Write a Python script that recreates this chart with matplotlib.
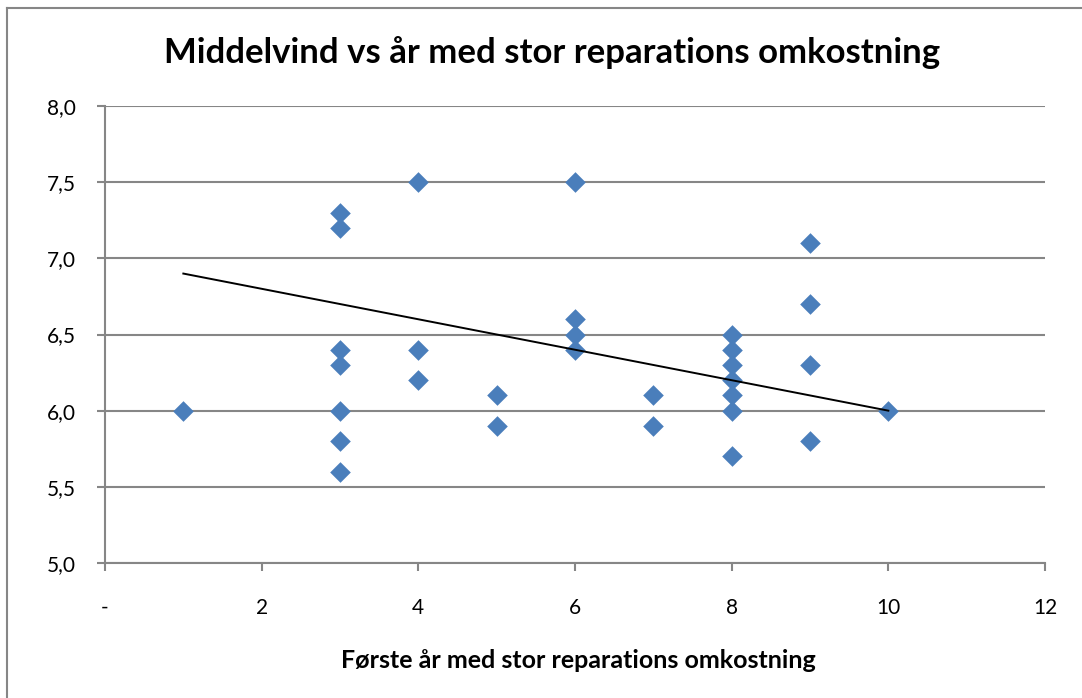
import matplotlib
matplotlib.use("Agg")
import matplotlib.pyplot as plt
from matplotlib.lines import Line2D
from matplotlib.ticker import FuncFormatter

# Data
first_year = [1, 3, 3, 3, 3, 3, 3, 3, 4, 4, 4, 5, 5, 6, 6, 6, 6, 7, 7,
              8, 8, 8, 8, 8, 8, 8, 9, 9, 9, 9, 10]
mean_wind = [6.0, 7.3, 7.2, 6.4, 6.3, 6.0, 5.8, 5.6, 7.5, 6.4, 6.2, 6.1, 5.9,
             7.5, 6.6, 6.5, 6.4, 6.1, 5.9,
             6.5, 6.4, 6.3, 6.2, 6.1, 6.0, 5.7, 7.1, 6.7, 6.3, 5.8, 6.0]
trend_x = [1, 10]
trend_y = [6.9, 6.0]

x_ticks = [0, 2, 4, 6, 8, 10, 12]
y_ticks = [5.0, 5.5, 6.0, 6.5, 7.0, 7.5, 8.0]

title = "Middelvind vs år med stor reparations omkostning"
xlabel = "Første år med stor reparations omkostning"

FONT = "Lato"
GRAY = "#868686"
BLUE = "#4A7EBB"

fig = plt.figure(figsize=(10.82, 6.98), dpi=100)
W, H = 1082, 698
ax = fig.add_axes([105 / W, (H - 563) / H, 940 / W, 457 / H])

ax.scatter(first_year, mean_wind, marker="D", s=10.5 ** 2, color=BLUE,
           linewidths=0, zorder=3, clip_on=False)
ax.plot(trend_x, trend_y, color="black", lw=1.4, zorder=4)

ax.set_xlim(0, 12)
ax.set_ylim(5.0, 8.0)
ax.set_xticks(x_ticks)
ax.set_yticks(y_ticks)
ax.xaxis.set_major_formatter(FuncFormatter(lambda v, p: "-" if v == 0 else f"{v:.0f}"))
ax.yaxis.set_major_formatter(FuncFormatter(lambda v, p: f"{v:.1f}".replace(".", ",")))

ax.grid(axis="y", color=GRAY, lw=1.5, zorder=1)
ax.set_axisbelow(True)
for side in ["top", "right"]:
    ax.spines[side].set_visible(False)
for side in ["left", "bottom"]:
    ax.spines[side].set_color(GRAY)
    ax.spines[side].set_linewidth(1.5)

ax.tick_params(axis="both", direction="out", length=6, width=1.5, color=GRAY,
               labelsize=15, labelcolor="black")
ax.tick_params(axis="x", pad=19)
ax.tick_params(axis="y", pad=15)
for lab in ax.get_xticklabels() + ax.get_yticklabels():
    lab.set_fontfamily(FONT)

fig.text(552 / W, 1 - 53 / H, title, ha="center", va="center",
         fontsize=25, fontweight="bold", fontfamily=FONT)
fig.text(578 / W, 1 - 660 / H, xlabel, ha="center", va="center",
         fontsize=18, fontweight="bold", fontfamily=FONT)

# Chart border (left and top visible)
fig.add_artist(Line2D([6.5 / W, 6.5 / W], [0, 1 - 7.5 / H], transform=fig.transFigure,
                      color=GRAY, lw=1.5))
fig.add_artist(Line2D([6.5 / W, 1], [1 - 7.5 / H, 1 - 7.5 / H], transform=fig.transFigure,
                      color=GRAY, lw=1.5))

fig.savefig("out.png", dpi=100)
